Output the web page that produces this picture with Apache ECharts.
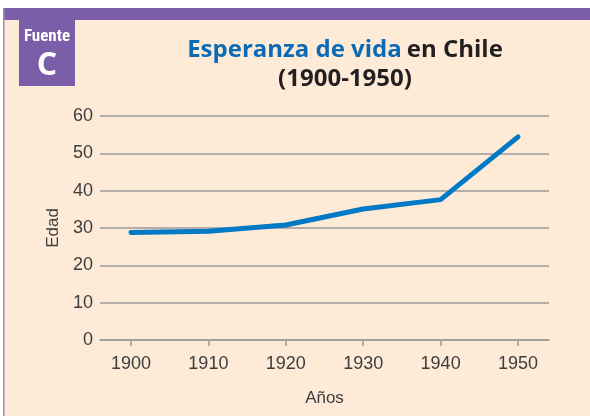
<!DOCTYPE html>
<html><head><meta charset="utf-8">
<script src="https://cdn.jsdelivr.net/npm/echarts@6/dist/echarts.min.js"></script>
<style>html,body{margin:0;padding:0;background:#fff}#c{width:590px;height:416px}</style>
</head><body><div id="c"></div>
<script>
const years = [1900, 1910, 1920, 1930, 1940, 1950];
const lifeExpectancy = [28.8, 29.1, 30.8, 35.1, 37.6, 54.4];
const xTicks = [1900, 1910, 1920, 1930, 1940, 1950];
const yTicks = [0, 10, 20, 30, 40, 50, 60];

const chart = echarts.init(document.getElementById('c'), null, {renderer: 'canvas'});
const labelFont = "'Liberation Sans', sans-serif";
chart.setOption({
  backgroundColor: '#ffffff',
  animation: false,
  graphic: [
    {type: 'rect', shape: {x: 3, y: 8, width: 587, height: 408}, style: {fill: '#FDEBD8'}, z: -10},
    {type: 'rect', shape: {x: 3, y: 8, width: 587, height: 12}, style: {fill: '#7A5EA8'}, z: -9},
    {type: 'rect', shape: {x: 3, y: 8, width: 1.5, height: 408}, style: {fill: '#9B86C0'}, z: -9},
    {type: 'rect', shape: {x: 19, y: 20, width: 56, height: 66}, style: {fill: '#7A5EA8'}, z: -9},
    {type: 'text', x: 47, y: 37, style: {text: 'Fuente', fill: '#fff', font: "bold 17px 'Roboto Condensed', 'Liberation Sans Narrow', 'Roboto', sans-serif", align: 'center', verticalAlign: 'middle'}},
    {type: 'text', x: 47, y: 66, style: {text: 'C', fill: '#fff', font: "bold 32px 'Open Sans', sans-serif", align: 'center', verticalAlign: 'middle'}}
  ],
  title: {
    text: '{b|Esperanza de vida} {k|en Chile}\n{k|(1900-1950)}',
    left: 340, top: 31, textAlign: 'center',
    textStyle: {
      rich: {
        b: {color: '#0A6AB4', fontSize: 24, fontWeight: 'bold', fontFamily: "'Open Sans', sans-serif", lineHeight: 29},
        k: {color: '#231F20', fontSize: 24, fontWeight: 'bold', fontFamily: "'Open Sans', sans-serif", lineHeight: 29}
      }
    }
  },
  grid: {left: 100, right: 41, top: 116, bottom: 76},
  xAxis: {
    type: 'value', min: 1896, max: 1954,
    name: 'Años', nameLocation: 'middle', nameGap: 50,
    nameTextStyle: {color: '#3d3d3d', fontSize: 17, fontFamily: labelFont},
    axisLine: {show: true, lineStyle: {color: '#9a9a9a', width: 1.5}},
    axisTick: {show: true, customValues: xTicks, length: 6, inside: false, lineStyle: {color: '#9a9a9a', width: 1.5}},
    axisLabel: {customValues: xTicks, formatter: v => String(v), color: '#3d3d3d', fontSize: 18, fontFamily: labelFont, margin: 15},
    splitLine: {show: false}
  },
  yAxis: {
    type: 'value', min: 0, max: 60, interval: 10,
    name: 'Edad', nameLocation: 'middle', nameGap: 37, nameRotate: 90,
    nameTextStyle: {color: '#3d3d3d', fontSize: 17, fontFamily: labelFont},
    axisLine: {show: false}, axisTick: {show: false},
    axisLabel: {color: '#3d3d3d', fontSize: 18, fontFamily: labelFont, margin: 7},
    splitLine: {show: true, lineStyle: {color: '#9a9a9a', width: 1.5}}
  },
  series: [{
    type: 'line',
    data: years.map((y, i) => [y, lifeExpectancy[i]]),
    symbol: 'none',
    lineStyle: {color: '#0079C6', width: 5, cap: 'round', join: 'round'},
    z: 5
  }]
});
</script></body></html>
